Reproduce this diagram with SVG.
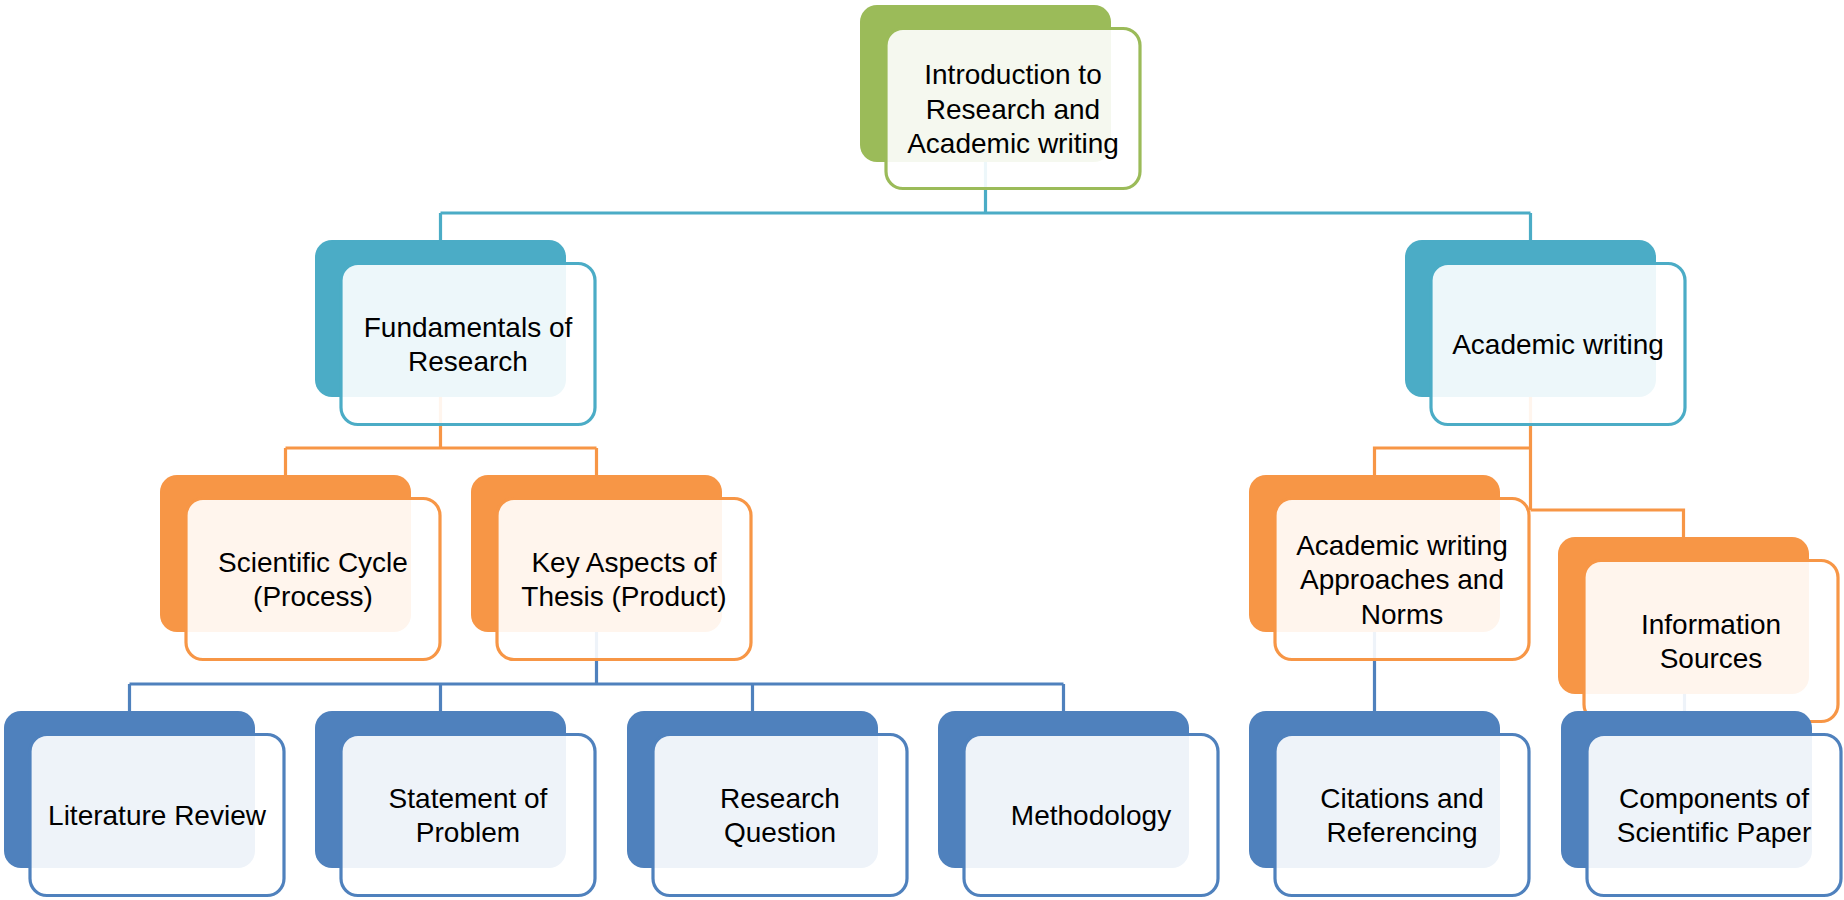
<svg xmlns="http://www.w3.org/2000/svg" width="1844" height="900" viewBox="0 0 1844 900">
<style>
.bg{fill:#ffffff}
.back{stroke:none}
.front{fill:#ffffff;fill-opacity:0.9;stroke-width:3.2}
.g .back{fill:#9BBB59}.g .front{stroke:#9BBB59}
.t .back{fill:#4BACC6}.t .front{stroke:#4BACC6}
.o .back{fill:#F79646}.o .front{stroke:#F79646}
.b .back{fill:#4F81BD}.b .front{stroke:#4F81BD}
.conn path{fill:none;stroke-width:3.2;stroke-linejoin:miter}
text{font-family:"Liberation Sans",Arial,sans-serif;font-size:28px;fill:#000000;text-anchor:middle}
</style>
<rect class="bg" x="0" y="0" width="1844" height="900"/>
<g id="connectors" class="conn">
<path stroke="#4BACC6" d="M985.5,162 V213 M440.5,213 H1530.5 M440.5,213 V240 M1530.5,213 V240"/>
<path stroke="#F79646" d="M440.5,397 V448 M285.5,448 H596.5 M285.5,448 V475 M596.5,448 V475"/>
<path stroke="#F79646" d="M1530.5,397 V510 M1530.5,448 H1374.5 V475 M1530.5,510 H1683.5 V537"/>
<path stroke="#4F81BD" d="M596.5,632 V684 M129.5,684 H1063.5 M129.5,684 V711 M440.5,684 V711 M752.5,684 V711 M1063.5,684 V711"/>
<path stroke="#4F81BD" d="M1374.5,632 V711 M1684.5,694 V711"/>
</g>
<g id="node-intro" class="g">
<rect class="back" x="860" y="5" width="251" height="157" rx="17"/>
<rect class="front" x="886" y="28.5" width="254" height="160" rx="17"/>
<text x="1013" y="84">Introduction to</text>
<text x="1013" y="118.5">Research and</text>
<text x="1013" y="153">Academic writing</text>
</g>
<g id="node-fundamentals" class="t">
<rect class="back" x="315" y="240" width="251" height="157" rx="17"/>
<rect class="front" x="341" y="263.5" width="254" height="161" rx="17"/>
<text x="468" y="336.5">Fundamentals of</text>
<text x="468" y="371">Research</text>
</g>
<g id="node-academic" class="t">
<rect class="back" x="1405" y="240" width="251" height="157" rx="17"/>
<rect class="front" x="1431" y="263.5" width="254" height="161" rx="17"/>
<text x="1558" y="354">Academic writing</text>
</g>
<g id="node-scientific" class="o">
<rect class="back" x="160" y="475" width="251" height="157" rx="17"/>
<rect class="front" x="186" y="498.5" width="254" height="161" rx="17"/>
<text x="313" y="571.5">Scientific Cycle</text>
<text x="313" y="606">(Process)</text>
</g>
<g id="node-keyaspects" class="o">
<rect class="back" x="471" y="475" width="251" height="157" rx="17"/>
<rect class="front" x="497" y="498.5" width="254" height="161" rx="17"/>
<text x="624" y="571.5">Key Aspects of</text>
<text x="624" y="606">Thesis (Product)</text>
</g>
<g id="node-approaches" class="o">
<rect class="back" x="1249" y="475" width="251" height="157" rx="17"/>
<rect class="front" x="1275" y="498.5" width="254" height="161" rx="17"/>
<text x="1402" y="554.5">Academic writing</text>
<text x="1402" y="589">Approaches and</text>
<text x="1402" y="623.5">Norms</text>
</g>
<g id="node-info" class="o">
<rect class="back" x="1558" y="537" width="251" height="157" rx="17"/>
<rect class="front" x="1584" y="560.5" width="254" height="161" rx="17"/>
<text x="1711" y="633.5">Information</text>
<text x="1711" y="668">Sources</text>
</g>
<g id="node-literature" class="b">
<rect class="back" x="4" y="711" width="251" height="157" rx="17"/>
<rect class="front" x="30" y="734.5" width="254" height="161" rx="17"/>
<text x="157" y="825">Literature Review</text>
</g>
<g id="node-statement" class="b">
<rect class="back" x="315" y="711" width="251" height="157" rx="17"/>
<rect class="front" x="341" y="734.5" width="254" height="161" rx="17"/>
<text x="468" y="807.5">Statement of</text>
<text x="468" y="842">Problem</text>
</g>
<g id="node-question" class="b">
<rect class="back" x="627" y="711" width="251" height="157" rx="17"/>
<rect class="front" x="653" y="734.5" width="254" height="161" rx="17"/>
<text x="780" y="807.5">Research</text>
<text x="780" y="842">Question</text>
</g>
<g id="node-methodology" class="b">
<rect class="back" x="938" y="711" width="251" height="157" rx="17"/>
<rect class="front" x="964" y="734.5" width="254" height="161" rx="17"/>
<text x="1091" y="825">Methodology</text>
</g>
<g id="node-citations" class="b">
<rect class="back" x="1249" y="711" width="251" height="157" rx="17"/>
<rect class="front" x="1275" y="734.5" width="254" height="161" rx="17"/>
<text x="1402" y="807.5">Citations and</text>
<text x="1402" y="842">Referencing</text>
</g>
<g id="node-components" class="b">
<rect class="back" x="1561" y="711" width="251" height="157" rx="17"/>
<rect class="front" x="1587" y="734.5" width="254" height="161" rx="17"/>
<text x="1714" y="807.5">Components of</text>
<text x="1714" y="842">Scientific Paper</text>
</g>
</svg>
